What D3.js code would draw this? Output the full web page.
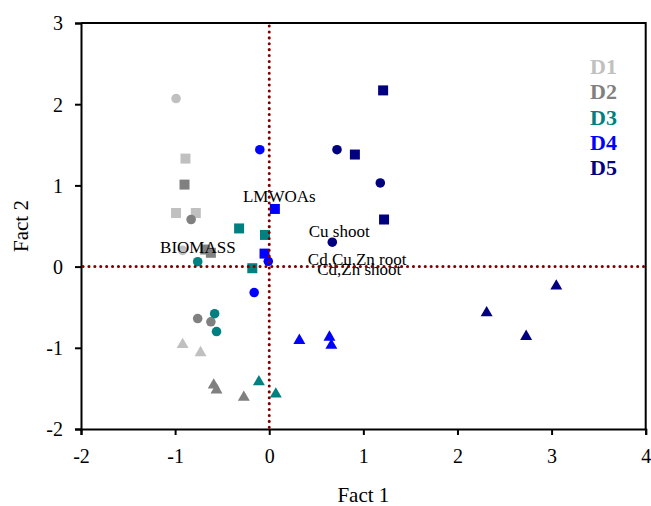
<!DOCTYPE html>
<html>
<head>
<meta charset="utf-8">
<script src="https://cdn.jsdelivr.net/npm/d3@7/dist/d3.min.js"></script>
<style>
  html, body { margin: 0; padding: 0; background: #fff; }
  svg { display: block; font-family: "Liberation Serif", "Times New Roman", serif; }
</style>
</head>
<body>
<svg id="chart" width="651" height="506"></svg>
<script>
// Groups and their colours
const groups = ["D1", "D2", "D3", "D4", "D5"];
const groupColors = ["#c0c0c0", "#808080", "#008080", "#0000ff", "#000080"];

// Sample scores on the first two factors: [group, shape, Fact 1, Fact 2]
const scoresD1 = [
  ["D1", "circle", -0.99, 2.07],
  ["D1", "square", -0.89, 1.33],
  ["D1", "square", -0.99, 0.66],
  ["D1", "square", -0.78, 0.66],
  ["D1", "circle", -0.92, 0.20],
  ["D1", "triangle", -0.92, -0.96],
  ["D1", "triangle", -0.73, -1.06]
];
const scoresD2 = [
  ["D2", "square", -0.90, 1.01],
  ["D2", "circle", -0.83, 0.58],
  ["D2", "square", -0.68, 0.21],
  ["D2", "square", -0.62, 0.17],
  ["D2", "circle", -0.76, -0.64],
  ["D2", "circle", -0.62, -0.68],
  ["D2", "triangle", -0.59, -1.46],
  ["D2", "triangle", -0.56, -1.52],
  ["D2", "triangle", -0.27, -1.61]
];
const scoresD3 = [
  ["D3", "square", -0.32, 0.47],
  ["D3", "square", -0.045, 0.39],
  ["D3", "circle", -0.76, 0.06],
  ["D3", "square", -0.18, -0.02],
  ["D3", "circle", -0.58, -0.58],
  ["D3", "circle", -0.56, -0.80],
  ["D3", "triangle", -0.11, -1.42],
  ["D3", "triangle", 0.07, -1.57]
];
const scoresD4 = [
  ["D4", "circle", -0.10, 1.44],
  ["D4", "square", 0.06, 0.71],
  ["D4", "square", -0.05, 0.16],
  ["D4", "circle", -0.01, 0.065],
  ["D4", "circle", -0.16, -0.32],
  ["D4", "triangle", 0.32, -0.91],
  ["D4", "triangle", 0.64, -0.87],
  ["D4", "triangle", 0.66, -0.97]
];
const scoresD5 = [
  ["D5", "square", 1.21, 2.17],
  ["D5", "circle", 0.72, 1.44],
  ["D5", "square", 0.91, 1.38],
  ["D5", "circle", 1.18, 1.03],
  ["D5", "square", 1.22, 0.58],
  ["D5", "circle", 0.67, 0.30],
  ["D5", "triangle", 2.31, -0.57],
  ["D5", "triangle", 2.73, -0.86],
  ["D5", "triangle", 3.05, -0.24]
];

// Variable names placed at their loading positions (Fact 1, Fact 2)
const varNames = ["LMWOAs", "BIOMASS", "Cu shoot", "Cd,Cu,Zn root", "Cd,Zn shoot"];
const varFact1 = [-0.28, -1.16, 0.42, 0.41, 0.51];
const varFact2 = [0.79, 0.17, 0.36, 0.016, -0.10];

// Axis ticks
const xTicks = [-2, -1, 0, 1, 2, 3, 4];
const yTicks = [-2, -1, 0, 1, 2, 3];

const margin = { left: 81, top: 23, right: 5.3, bottom: 77 };
const W = 651, H = 506;
const svg = d3.select("#chart");

const x = d3.scaleLinear().domain([-2, 4]).range([margin.left, W - margin.right]);
const y = d3.scaleLinear().domain([-2, 3]).range([H - margin.bottom, margin.top]);
const color = d3.scaleOrdinal().domain(groups).range(groupColors);

// Axes (plain hyphen for negative numbers)
const fmt = d => String(d);
const xAxis = svg.append("g")
  .attr("transform", `translate(0,${y(-2)})`)
  .call(d3.axisBottom(x).tickValues(xTicks).tickSize(6).tickPadding(14).tickFormat(fmt));
const yAxis = svg.append("g")
  .attr("transform", `translate(${x(-2)},0)`)
  .call(d3.axisLeft(y).tickValues(yTicks).tickSize(6).tickPadding(12).tickFormat(fmt));
[xAxis, yAxis].forEach(a => {
  a.select(".domain").attr("stroke", "#000").attr("stroke-width", 2);
  a.selectAll(".tick line").attr("stroke", "#000").attr("stroke-width", 2);
  a.selectAll(".tick text")
    .attr("fill", "#000")
    .style("font-family", "'Liberation Serif', 'Times New Roman', serif")
    .style("font-size", "20px");
});
yAxis.selectAll(".tick text").attr("dy", "0.34em");

// Top and right frame
svg.append("path")
  .attr("d", `M${x(-2)},${y(3)}H${x(4)}V${y(-2)}`)
  .attr("fill", "none").attr("stroke", "#000").attr("stroke-width", 2);

// Axis titles
svg.append("text")
  .attr("x", (x(-2) + x(4)) / 2).attr("y", 502)
  .attr("text-anchor", "middle").style("font-size", "21px").text("Fact 1");
svg.append("text")
  .attr("transform", `translate(28,${(y(-2) + y(3)) / 2}) rotate(-90)`)
  .attr("text-anchor", "middle").style("font-size", "21px").text("Fact 2");

// Sample markers
const allScores = [].concat(scoresD1, scoresD2, scoresD3, scoresD4, scoresD5);
const symbolType = { circle: d3.symbolCircle, square: d3.symbolSquare, triangle: d3.symbolTriangle };
const symbolSize = { circle: 72, square: 100, triangle: 62 };
svg.append("g").selectAll("path")
  .data(allScores)
  .join("path")
  .attr("transform", d => `translate(${x(d[2])},${y(d[3])})`)
  .attr("d", d => d3.symbol().type(symbolType[d[1]]).size(symbolSize[d[1]])())
  .attr("fill", d => color(d[0]));

// Variable labels
svg.append("g").selectAll("text")
  .data(varNames)
  .join("text")
  .attr("x", (d, i) => x(varFact1[i]))
  .attr("y", (d, i) => y(varFact2[i]))
  .style("font-size", "17px")
  .attr("fill", "#000")
  .text(d => d);

// Dotted reference lines through the origin
const refLines = svg.append("g")
  .attr("stroke", "#800000").attr("stroke-width", 3)
  .attr("stroke-linecap", "round").attr("stroke-dasharray", "0.1 5.8");
refLines.append("line")
  .attr("x1", x(0)).attr("x2", x(0)).attr("y1", y(3) + 3).attr("y2", y(-2));
refLines.append("line")
  .attr("x1", x(-2) + 2).attr("x2", x(4) - 2).attr("y1", y(0)).attr("y2", y(0));

// Group legend
svg.append("g").selectAll("text")
  .data(groups)
  .join("text")
  .attr("x", 590)
  .attr("y", (d, i) => 74 + i * 25.3)
  .style("font-size", "22px").style("font-weight", "bold")
  .attr("fill", d => color(d))
  .text(d => d);
</script>
</body>
</html>
